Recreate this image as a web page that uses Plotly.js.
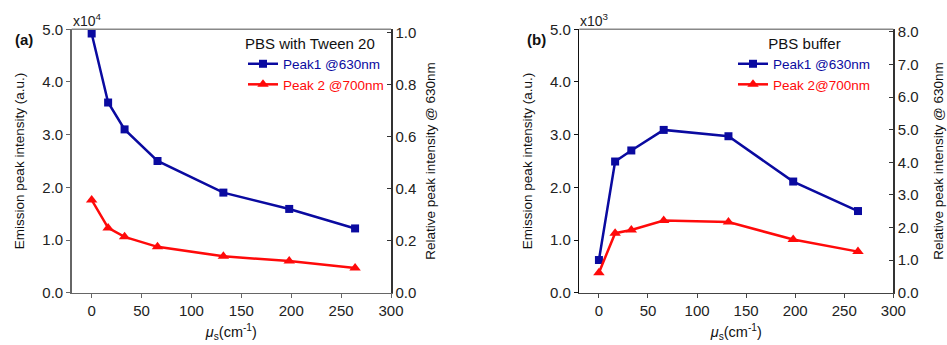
<!DOCTYPE html>
<html>
<head>
<meta charset="utf-8">
<script src="https://cdn.plot.ly/plotly-3.0.1.min.js"></script>
<style>html,body{margin:0;padding:0;background:#fff;}#chart{width:947px;height:345px;}</style>
</head>
<body>
<div id="chart"></div>
<script>
// Data (x in cm^-1)
const muS = [0, 16.5, 33, 66, 132, 198, 264];
// Panel (a): PBS with Tween 20, intensities in units of 1e4
const tweenPeak1 = [4.92, 3.61, 3.10, 2.50, 1.90, 1.59, 1.22];
const tweenPeak2 = [1.76, 1.23, 1.06, 0.87, 0.69, 0.60, 0.47];
// Panel (b): PBS buffer, intensities in units of 1e3
const bufferPeak1 = [0.62, 2.49, 2.70, 3.09, 2.97, 2.11, 1.55];
const bufferPeak2 = [0.38, 1.13, 1.19, 1.37, 1.34, 1.01, 0.78];
const xTicks = [0, 50, 100, 150, 200, 250, 300];
const leftTicks = [0, 1, 2, 3, 4, 5];
const rightTicksA = [0, 0.2, 0.4, 0.6, 0.8, 1.0];
const rightTicksB = [0, 1, 2, 3, 4, 5, 6, 7, 8];

const blue = '#0a0aa0';
const red = '#ff0a0a';
const font = 'Liberation Sans, Arial, sans-serif';

function lineTrace(y, xa, ya, name, color, symbol, size, legend) {
  return {
    x: muS, y: y, xaxis: xa, yaxis: ya, type: 'scatter', mode: 'lines+markers',
    name: '<span style="color:' + color + '">' + name + '</span>',
    line: {color: color, width: 2.5},
    marker: {color: color, symbol: symbol, size: size},
    cliponaxis: false, legend: legend
  };
}
// empty traces so that the right-hand axes are drawn
function axisHolder(xa, ya) {
  return {x: [], y: [], xaxis: xa, yaxis: ya, type: 'scatter', mode: 'lines', showlegend: false, hoverinfo: 'skip'};
}

const traces = [
  lineTrace(tweenPeak1, 'x', 'y', 'Peak1 @630nm', blue, 'square', 8, 'legend'),
  lineTrace(tweenPeak2, 'x', 'y', 'Peak 2 @700nm', red, 'triangle-up', 10, 'legend'),
  lineTrace(bufferPeak1, 'x2', 'y3', 'Peak1 @630nm', blue, 'square', 8, 'legend2'),
  lineTrace(bufferPeak2, 'x2', 'y3', 'Peak 2@700nm', red, 'triangle-up', 10, 'legend2'),
  axisHolder('x', 'y2'),
  axisHolder('x2', 'y4')
];

const yDom = [0.1516, 0.9151];
const tickFont = {family: font, size: 15, color: '#222'};
const titleFont = {family: font, size: 13.5, color: '#111'};
const xTitle = '<i>μ</i><sub>s</sub>(cm<sup>-1</sup>)';

function xAxis(domain, anchor, lc) {
  return {
    domain: domain, anchor: anchor, range: [-20, 300], tickvals: xTicks,
    ticks: 'outside', ticklen: 4, tickwidth: 1, tickcolor: lc,
    showline: true, linecolor: lc, linewidth: 1.5, showgrid: false, zeroline: false,
    tickfont: tickFont, title: {text: xTitle, font: {family: font, size: 14.5, color: '#111'}, standoff: 8}
  };
}
function yLeft(anchor, lc) {
  return {
    domain: yDom, anchor: anchor, range: [0, 5], tickvals: leftTicks, tickformat: '.1f',
    ticks: 'outside', ticklen: 4, tickwidth: 1, tickcolor: lc,
    showline: true, linecolor: lc, linewidth: 1.5, showgrid: false, zeroline: false,
    tickfont: tickFont, title: {text: 'Emission peak intensity (a.u.)', font: titleFont, standoff: 14}
  };
}
function yRight(overlay, anchor, range, vals, standoff) {
  return {
    overlaying: overlay, anchor: anchor, side: 'right', range: range, tickvals: vals, tickformat: '.1f',
    ticks: 'inside', ticklen: 4, tickwidth: 1, tickcolor: '#333',
    showline: true, linecolor: '#333', linewidth: 1.5, showgrid: false, zeroline: false,
    tickfont: tickFont, title: {text: 'Relative peak intensity @ 630nm', font: titleFont, standoff: standoff}
  };
}

const xA = [71.7/947, 391/947];
const xB = [579.3/947, 893.3/947];

const layout = {
  width: 947, height: 345,
  margin: {l: 0, r: 0, t: 0, b: 0},
  paper_bgcolor: '#fff', plot_bgcolor: 'rgba(0,0,0,0)',
  font: {family: font, size: 13, color: '#111'},
  showlegend: true,
  xaxis: xAxis(xA, 'y', '#666'),
  yaxis: yLeft('x', '#666'),
  yaxis2: yRight('y', 'x', [0, 1.013], rightTicksA, 10),
  xaxis2: xAxis(xB, 'y3', '#444'),
  yaxis3: yLeft('x2', '#111'),
  yaxis4: yRight('y3', 'x2', [0, 8.08], rightTicksB, 16),
  legend: {
    x: 243/947, y: 1 - 29/345, xanchor: 'left', yanchor: 'top',
    bgcolor: 'rgba(0,0,0,0)', borderwidth: 0,
    font: {family: font, size: 13.5}, itemwidth: 30, tracegroupgap: 0,
    title: {text: 'PBS with Tween 20', font: {family: font, size: 15, color: '#111'}, side: 'top'}
  },
  legend2: {
    x: 733/947, y: 1 - 29/345, xanchor: 'left', yanchor: 'top',
    bgcolor: 'rgba(0,0,0,0)', borderwidth: 0,
    font: {family: font, size: 13.5}, itemwidth: 30, tracegroupgap: 0,
    title: {text: 'PBS buffer', font: {family: font, size: 15, color: '#111'}, side: 'top center'}
  },
  shapes: [
    {type: 'line', xref: 'paper', yref: 'paper', x0: xA[0], x1: xA[1], y0: yDom[1], y1: yDom[1], line: {color: '#888', width: 1.5}},
    {type: 'line', xref: 'paper', yref: 'paper', x0: xB[0], x1: xB[1], y0: yDom[1], y1: yDom[1], line: {color: '#888', width: 1.5}}
  ],
  annotations: [
    {text: 'x10<sup>4</sup>', xref: 'paper', yref: 'paper', x: 71/947, y: yDom[1] - 0.004, xanchor: 'left', yanchor: 'bottom', showarrow: false, font: {family: font, size: 14, color: '#222'}},
    {text: 'x10<sup>3</sup>', xref: 'paper', yref: 'paper', x: 578/947, y: yDom[1] - 0.004, xanchor: 'left', yanchor: 'bottom', showarrow: false, font: {family: font, size: 14, color: '#222'}},
    {text: '<b>(a)</b>', xref: 'paper', yref: 'paper', x: 13/947, y: 1 - 40/345, xanchor: 'left', yanchor: 'middle', showarrow: false, font: {family: font, size: 15, color: '#111'}},
    {text: '<b>(b)</b>', xref: 'paper', yref: 'paper', x: 525/947, y: 1 - 40/345, xanchor: 'left', yanchor: 'middle', showarrow: false, font: {family: font, size: 15, color: '#111'}}
  ]
};

Plotly.newPlot('chart', traces, layout, {displayModeBar: false, staticPlot: true});
</script>
</body>
</html>
